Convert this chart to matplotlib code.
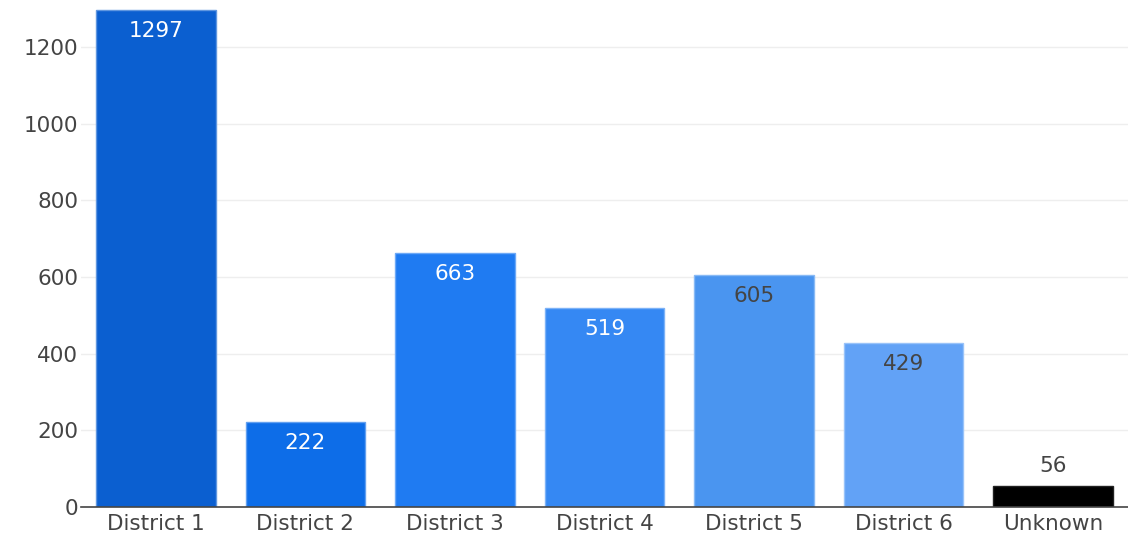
import matplotlib
matplotlib.use("Agg")
import matplotlib.pyplot as plt
import matplotlib.colors as mcolors

categories = ["District 1", "District 2", "District 3", "District 4", "District 5", "District 6", "Unknown"]
values = [1297, 222, 663, 519, 605, 429, 56]
colors = ["#0b5fd0", "#0d6de8", "#1f7bf2", "#3588f3", "#4a95f0", "#62a2f6", "#000000"]
label_colors = ["white", "white", "white", "white", "#444444", "#444444", "#444444"]
yticks = [0, 200, 400, 600, 800, 1000, 1200]

plt.rcParams['font.family'] = ['DejaVu Sans']
fig = plt.figure(figsize=(11.28, 5.38), dpi=100)
ax = fig.add_axes([81/1128, 31/538, 1 - 81/1128, 507/538])

x = list(range(len(categories)))
edges = []
for c in colors:
    r, g, b = mcolors.to_rgb(c)
    if c == "#000000":
        edges.append("#222222")
    else:
        edges.append((r + (1 - r) * 0.35, g + (1 - g) * 0.35, b + (1 - b) * 0.35))
bars = ax.bar(x, values, width=0.8, color=colors, edgecolor=edges, linewidth=1, zorder=3)

ymax = 1323
ax.set_ylim(0, ymax)
ax.set_xlim(-0.5, len(categories) - 0.5)

fs = 15.5
for xi, v, lc in zip(x, values, label_colors):
    if v > 150:
        ax.text(xi, v - 21 * ymax / 507, str(v), ha="center", va="center",
                color=lc, fontsize=fs, zorder=4)
    else:
        ax.text(xi, v + 20 * ymax / 507, str(v), ha="center", va="center",
                color=lc, fontsize=fs, zorder=4)

ax.set_yticks(yticks)
ax.set_yticklabels([str(t) for t in yticks])
ax.set_xticks(x)
ax.set_xticklabels(categories)
ax.tick_params(axis="both", length=0, labelsize=fs, colors="#444444")
ax.tick_params(axis="y", pad=2)
ax.tick_params(axis="x", pad=5)
ax.grid(axis="y", color="#eeeeee", linewidth=1, zorder=0)
for s in ["top", "right", "left"]:
    ax.spines[s].set_visible(False)
ax.spines["bottom"].set_color("#444444")
ax.spines["bottom"].set_linewidth(1.2)
ax.spines["bottom"].set_zorder(5)
ax.set_axisbelow(True)

fig.savefig("out.png", dpi=100)
